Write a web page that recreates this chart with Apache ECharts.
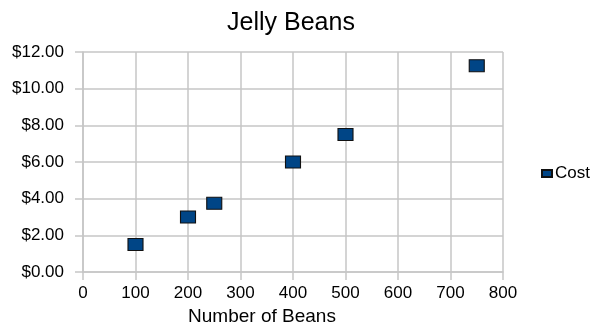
<!DOCTYPE html>
<html>
<head>
<meta charset="utf-8">
<script src="https://cdn.jsdelivr.net/npm/echarts@6/dist/echarts.min.js"></script>
<style>
  html, body { margin: 0; padding: 0; background: #fff; }
  #chart { width: 595px; height: 326px; }
</style>
</head>
<body>
<div id="chart"></div>
<script>
const chart = echarts.init(document.getElementById("chart"));

// data
const beans = [100, 200, 250, 400, 500, 750];
const cost = [1.5, 3.0, 3.75, 6.0, 7.5, 11.25];

const GRID_COLOR = "#c6c6c6";
const FONT = "Liberation Sans";

chart.setOption({
  animation: false,
  textStyle: { fontFamily: FONT },
  title: [
    {
      text: "Jelly Beans",
      left: 286,
      textAlign: "center",
      top: 6,
      textStyle: { fontSize: 25, fontWeight: "normal", color: "#000", fontFamily: FONT }
    },
    {
      // axis title sits left of the plot centre in the original
      text: "Number of Beans",
      left: 257,
      textAlign: "center",
      top: 302,
      textStyle: { fontSize: 19, fontWeight: "normal", color: "#000", fontFamily: FONT }
    }
  ],
  legend: {
    left: 536,
    top: 160,
    itemWidth: 10,
    itemHeight: 7,
    itemGap: 4,
    textStyle: { fontSize: 17, color: "#000", fontFamily: FONT, padding: [0, 0, 0, -2] },
    data: [{ name: "Cost", icon: "rect" }]
  },
  grid: {
    left: 83,
    right: 92,
    top: 52,
    bottom: 54,
    containLabel: false
  },
  xAxis: {
    type: "value",
    min: 0,
    max: 800,
    interval: 100,
    axisLine: { lineStyle: { color: GRID_COLOR, width: 1.5 } },
    axisTick: { show: true, length: 8, lineStyle: { color: GRID_COLOR, width: 1.5 } },
    axisLabel: { fontSize: 17, color: "#000", margin: 13 },
    splitLine: { show: true, lineStyle: { color: GRID_COLOR, width: 1.5 } }
  },
  yAxis: {
    type: "value",
    min: 0,
    max: 12,
    interval: 2,
    axisLine: { show: true, lineStyle: { color: GRID_COLOR, width: 1.5 } },
    axisTick: { show: true, length: 8, lineStyle: { color: GRID_COLOR, width: 1.5 } },
    axisLabel: {
      fontSize: 17,
      color: "#000",
      margin: 19,
      formatter: v => "$" + v.toFixed(2)
    },
    splitLine: { show: true, lineStyle: { color: GRID_COLOR, width: 1.5 } }
  },
  series: [
    {
      name: "Cost",
      type: "scatter",
      symbol: "rect",
      symbolSize: [15, 12],
      itemStyle: { color: "#004586", borderColor: "#111", borderWidth: 1, opacity: 1 },
      data: beans.map((b, i) => [b, cost[i]])
    }
  ]
});
</script>
</body>
</html>
